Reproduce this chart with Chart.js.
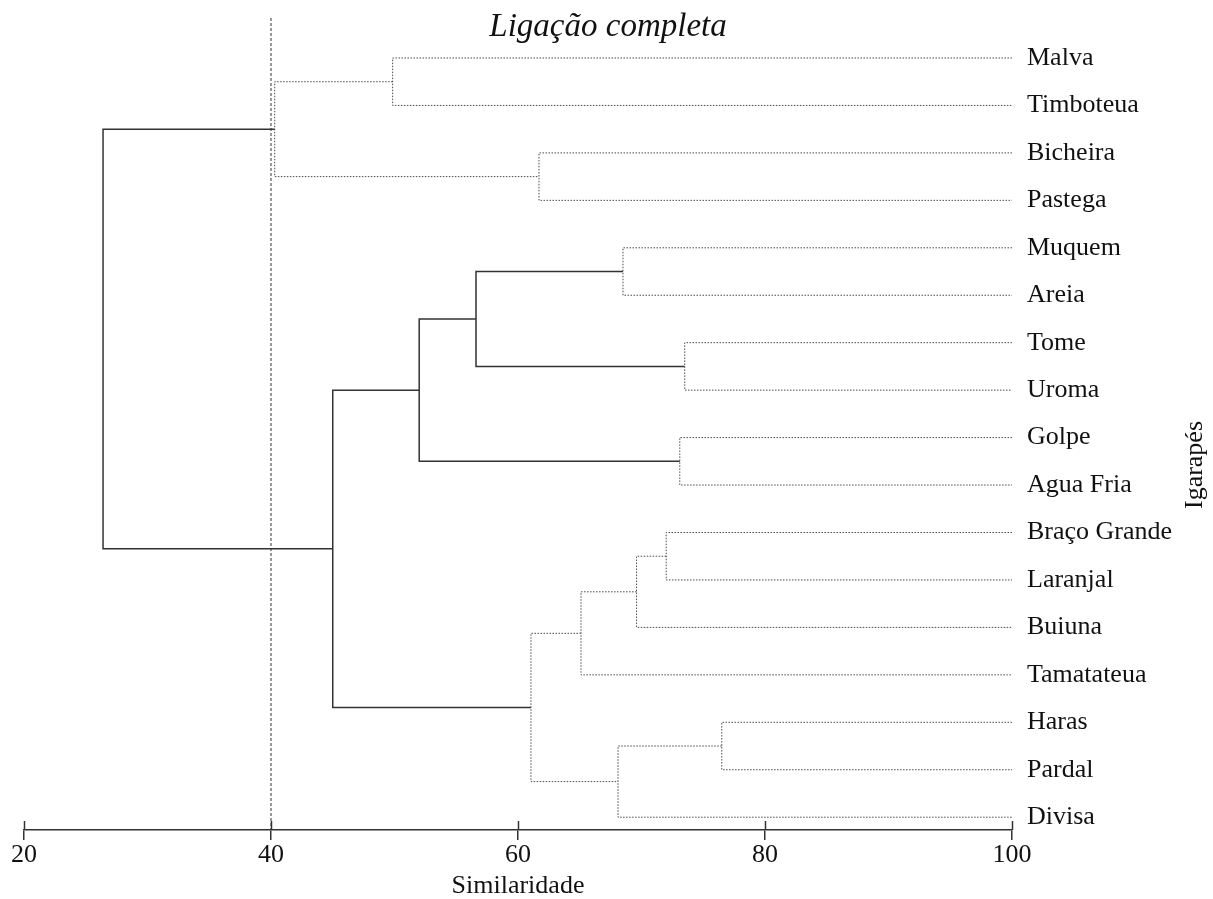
<!DOCTYPE html>
<html>
<head>
<meta charset="utf-8">
<script src="https://cdn.jsdelivr.net/npm/chart.js@4"></script>
<style>
    html, body { margin: 0; padding: 0; background: #fff; }
    #wrap { width: 1213px; height: 899px; }
</style>
</head>
<body>
<div id="wrap"><canvas id="dendro"></canvas></div>
<script>
// Leaves, top to bottom
const leaves = ['Malva', 'Timboteua', 'Bicheira', 'Pastega', 'Muquem', 'Areia', 'Tome', 'Uroma',
    'Golpe', 'Agua Fria', 'Braço Grande', 'Laranjal', 'Buiuna', 'Tamatateua', 'Haras', 'Pardal', 'Divisa'];

// Merges (node ids: leaves are 0..16, merge k becomes node 17 + k)
const mergeLeft   = [0, 2, 17, 4, 6, 20, 8, 22, 10, 25, 26, 14, 28, 27, 24, 19];
const mergeRight  = [1, 3, 18, 5, 7, 21, 9, 23, 11, 12, 13, 15, 16, 29, 30, 31];
const mergeHeight = [49.85, 61.7, 40.3, 68.5, 73.5, 56.6, 73.1, 52.0, 72.0, 69.6, 65.1, 76.5, 68.1, 61.05, 45.0, 26.4];
const mergeSolid  = [false, false, false, false, false, true, false, true, false, false, false, false, false, false, true, true];

const xTicks = [20, 40, 60, 80, 100];
const cutLevel = 40;

const yMin = -0.0843;
const yMax = 16.27;
const cutTop = -0.843;

const SERIF = '"Liberation Serif", "Times New Roman", serif';

// positions and heights of every node
const nodePos = leaves.map((_, i) => i);
const nodeHeight = leaves.map(() => 100);
mergeLeft.forEach((l, k) => {
    const r = mergeRight[k];
    nodePos.push((nodePos[l] + nodePos[r]) / 2);
    nodeHeight.push(mergeHeight[k]);
});

const datasets = mergeLeft.map((l, k) => {
    const r = mergeRight[k];
    const h = mergeHeight[k];
    return {
        data: [
            { x: nodeHeight[l], y: nodePos[l] },
            { x: h, y: nodePos[l] },
            { x: h, y: nodePos[r] },
            { x: nodeHeight[r], y: nodePos[r] }
        ],
        showLine: true,
        borderColor: mergeSolid[k] ? '#333' : '#4a4a4a',
        borderWidth: mergeSolid[k] ? 1.5 : 1,
        borderDash: mergeSolid[k] ? [] : [1.5, 1.5],
        pointRadius: 0,
        tension: 0,
        clip: false
    };
});

// cut line
datasets.push({
    data: [{ x: cutLevel, y: cutTop }, { x: cutLevel, y: yMax }],
    showLine: true,
    borderColor: '#333',
    borderWidth: 1,
    borderDash: [3, 2],
    pointRadius: 0,
    clip: false
});

// ticks that cross the axis + rotated axis label on the right
const extrasPlugin = {
    id: 'extras',
    afterDraw(chart) {
        const ctx = chart.ctx;
        const xs = chart.scales.x;
        const bottom = chart.chartArea.bottom;
        ctx.save();
        ctx.strokeStyle = '#333';
        ctx.lineWidth = 1.5;
        xTicks.forEach(v => {
            const px = Math.round(xs.getPixelForValue(v)) + 0.5;
            ctx.beginPath();
            ctx.moveTo(px, bottom - 9);
            ctx.lineTo(px, bottom);
            ctx.stroke();
        });
        ctx.translate(chart.width - 18, 465);
        ctx.rotate(-Math.PI / 2);
        ctx.fillStyle = '#111';
        ctx.font = '26px ' + SERIF;
        ctx.textAlign = 'center';
        ctx.textBaseline = 'middle';
        ctx.fillText('Igarapés', 0, 0);
        ctx.restore();
    }
};

new Chart(document.getElementById('dendro'), {
    type: 'scatter',
    data: { datasets: datasets },
    plugins: [extrasPlugin],
    options: {
        responsive: true,
        maintainAspectRatio: false,
        animation: false,
        layout: { padding: { left: 24, right: 21, top: 0, bottom: 0 } },
        plugins: {
            legend: { display: false },
            tooltip: { enabled: false },
            title: {
                display: true,
                text: 'Ligação completa',
                color: '#111',
                font: { family: SERIF, size: 33, style: 'italic', weight: 'normal' },
                padding: { top: 8, bottom: 6.4 }
            }
        },
        scales: {
            x: {
                type: 'linear',
                min: 20,
                max: 100,
                afterBuildTicks: axis => { axis.ticks = xTicks.map(v => ({ value: v })); },
                afterFit: axis => { axis.height = 69; },
                grid: { drawOnChartArea: false, color: '#333', lineWidth: 1.5, tickLength: 10 },
                border: { color: '#333', width: 1.5 },
                ticks: { color: '#111', padding: 0, font: { family: SERIF, size: 26 } },
                title: {
                    display: true,
                    text: 'Similaridade',
                    color: '#111',
                    padding: 0,
                    font: { family: SERIF, size: 26, lineHeight: 1 }
                }
            },
            y: {
                type: 'linear',
                position: 'right',
                reverse: true,
                min: yMin,
                max: yMax,
                afterBuildTicks: axis => { axis.ticks = leaves.map((_, i) => ({ value: i })); },
                afterFit: axis => { axis.width = 180; },
                grid: { display: false, drawTicks: false },
                border: { display: false },
                ticks: {
                    color: '#111',
                    padding: 15,
                    font: { family: SERIF, size: 26 },
                    callback: v => leaves[v]
                }
            }
        }
    }
});
</script>
</body>
</html>
